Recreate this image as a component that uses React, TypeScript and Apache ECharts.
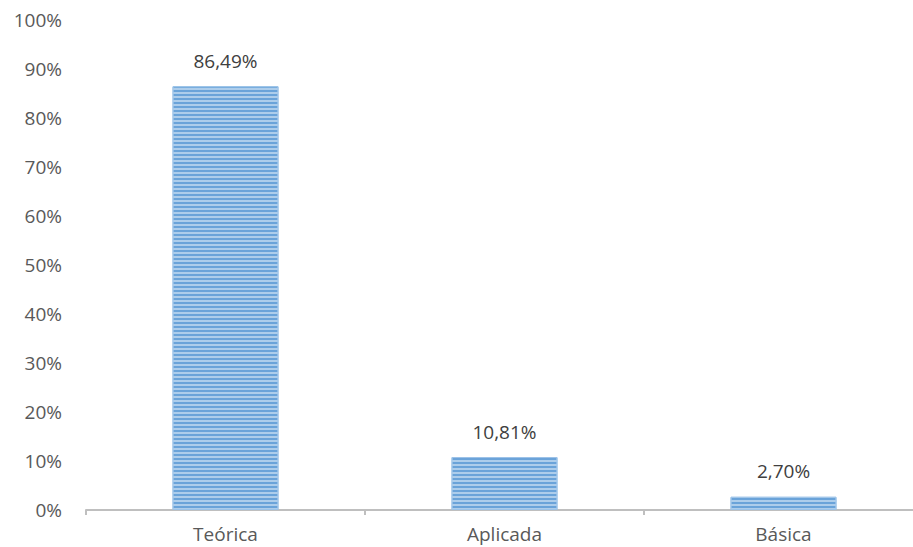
import React, { useEffect, useRef } from "react";
import * as echarts from "echarts";

const categories = ["Teórica", "Aplicada", "Básica"];
const values = [86.49, 10.81, 2.7];
const yTicks = [0, 10, 20, 30, 40, 50, 60, 70, 80, 90, 100];

export default function App() {
  const ref = useRef<HTMLDivElement>(null);
  useEffect(() => {
    const chart = echarts.init(ref.current!, null, { renderer: "svg" });
    chart.setOption({
      animation: false,
      backgroundColor: "#ffffff",
      grid: { left: 86, right: 7, top: 20, bottom: 37, containLabel: false },
      xAxis: {
        type: "category",
        data: categories,
        axisLine: { lineStyle: { color: "#bfbfbf", width: 2 } },
        axisTick: { show: true, alignWithLabel: false, length: 5, lineStyle: { color: "#bfbfbf", width: 2 } },
        axisLabel: { color: "#595959", fontSize: 19, fontFamily: "Open Sans", margin: 14 },
      },
      yAxis: {
        type: "value",
        min: yTicks[0],
        max: yTicks[yTicks.length - 1],
        interval: 10,
        axisLine: { show: false },
        axisTick: { show: false },
        splitLine: { show: false },
        axisLabel: {
          color: "#595959",
          fontSize: 19,
          fontFamily: "Open Sans",
          margin: 24,
          formatter: (v: number) => `${v}%`,
        },
      },
      series: [
        {
          type: "bar",
          data: values,
          barWidth: 106,
          itemStyle: {
            color: "#6aa3d9",
            borderColor: "#9cc3e8",
            borderWidth: 1,
            decal: {
              symbol: "rect",
              symbolSize: 1,
              dashArrayX: [1, 0],
              dashArrayY: [2, 2],
              color: "rgba(190,215,240,0.8)",
              rotation: 0,
            },
          },
          label: {
            show: true,
            position: "top",
            distance: 16,
            color: "#404040",
            fontSize: 19,
            fontFamily: "Open Sans",
            formatter: (p: any) => p.value.toFixed(2).replace(".", ",") + "%",
          },
        },
      ],
    });
    return () => chart.dispose();
  }, []);
  return (
    <div style={{ position: "fixed", left: 0, top: 0, width: 913, height: 547, overflow: "hidden", background: "#fff" }}>
      <div ref={ref} style={{ width: 930, height: 547 }} />
    </div>
  );
}
